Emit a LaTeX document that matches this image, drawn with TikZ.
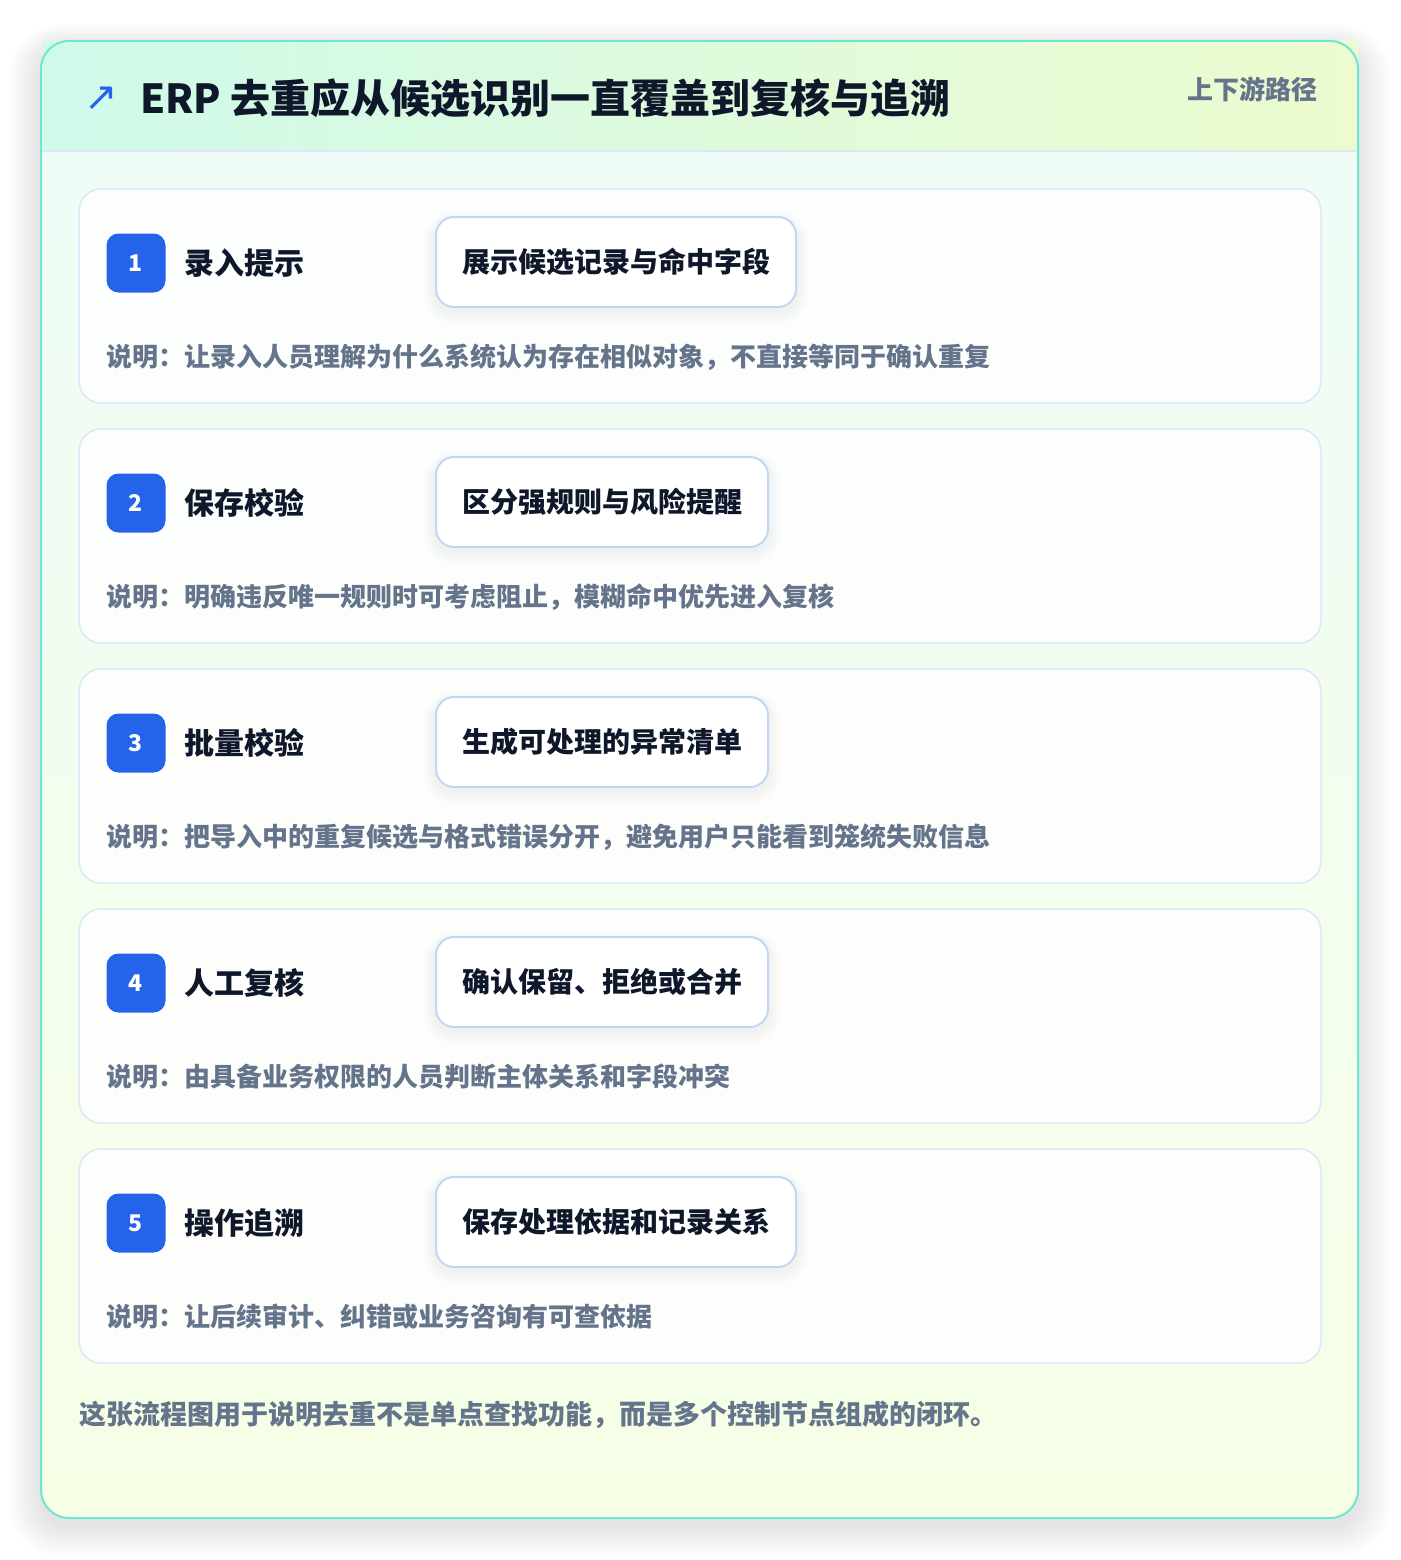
\documentclass[tikz,border=0pt]{standalone}
\usepackage{fontspec}
\setmainfont{Noto Sans CJK SC}
\newfontfamily\symf{DejaVu Sans}
\pgfdeclarelayer{bg}
\pgfdeclarelayer{shad}
\pgfsetlayers{bg,shad,main}
\definecolor{framebd}{HTML}{6EE7D2}
\definecolor{hdrL}{HTML}{CFFAEA}
\definecolor{hdrR}{HTML}{EDFBCE}
\definecolor{bodyT}{HTML}{EFFDF8}
\definecolor{bodyB}{HTML}{F6FEE6}
\definecolor{cardbd}{HTML}{DCE8FA}
\definecolor{pillbd}{HTML}{BFD8F6}
\definecolor{badgec}{HTML}{2563EB}
\definecolor{darktxt}{HTML}{0F172A}
\definecolor{graytxt}{HTML}{64748B}
\tikzset{
  cardbox/.style={draw=cardbd, line width=1.5pt, fill=white, fill opacity=0.85, draw opacity=1, rounded corners=22pt},
  badgebox/.style={fill=badgec, rounded corners=12pt, minimum width=59pt, minimum height=59pt, inner sep=0pt, text=white, font=\fontsize{23}{26}\selectfont\bfseries},
  steptitle/.style={anchor=west, inner sep=0pt, text=darktxt, font=\fontsize{30}{36}\selectfont\bfseries},
  pillbox/.style={anchor=west, draw=pillbd, line width=2pt, fill=white, rounded corners=18pt, minimum height=90pt, inner xsep=26pt, inner ysep=0pt, text=darktxt, font=\fontsize{28}{34}\selectfont\bfseries},
  desctxt/.style={anchor=west, inner sep=0pt, text=graytxt, font=\fontsize{26}{32}\selectfont\bfseries},
  foottxt/.style={anchor=west, inner sep=0pt, text=graytxt, font=\fontsize{27}{32}\selectfont\bfseries},
  softshadow/.style={fill=black, opacity=0.0055},
}
\begin{document}
\begin{tikzpicture}[x=1pt,y=-1pt]
\useasboundingbox (0,0) rectangle (1400,1560);
\begin{pgfonlayer}{bg}
\fill[white] (0,0) rectangle (1400,1560);
% soft shadow of frame
\foreach \k in {1,...,26}{
  \fill[softshadow, rounded corners=28+\k] (41-\k*1.3,41-\k*0.9+6) rectangle (1358+\k*1.3,1518+\k*1.2+8);
}
\path[rounded corners=28pt, top color=bodyT, bottom color=bodyB] (41,41) rectangle (1358,1518);
% header
\shade[left color=hdrL, right color=hdrR] (43,42) rectangle (1358,151);
\draw[cardbd, line width=1.5pt] (42,151) -- (1357,151);
\draw[framebd, line width=2pt, rounded corners=28pt] (41,41) rectangle (1358,1518);
\end{pgfonlayer}
\node[anchor=center, inner sep=0pt, text=badgec, font=\symf\fontsize{40}{44}\selectfont] (icon) at (101,99) {↗};
\node[anchor=west, inner sep=0pt, text=darktxt, font=\fontsize{40}{46}\selectfont\bfseries] (title) at (140,98) {ERP 去重应从候选识别一直覆盖到复核与追溯};
\node[anchor=east, inner sep=0pt, text=graytxt, font=\fontsize{26}{30}\selectfont\bfseries] (tag) at (1318,89) {上下游路径};
% cards
\foreach \i/\t/\b/\d in {
  1/录入提示/展示候选记录与命中字段/说明：让录入人员理解为什么系统认为存在相似对象，不直接等同于确认重复,
  2/保存校验/区分强规则与风险提醒/说明：明确违反唯一规则时可考虑阻止，模糊命中优先进入复核,
  3/批量校验/生成可处理的异常清单/说明：把导入中的重复候选与格式错误分开，避免用户只能看到笼统失败信息,
  4/人工复核/确认保留、拒绝或合并/说明：由具备业务权限的人员判断主体关系和字段冲突,
  5/操作追溯/保存处理依据和记录关系/说明：让后续审计、纠错或业务咨询有可查依据}{
  \pgfmathsetmacro{\top}{189+240*(\i-1)}
  \begin{pgfonlayer}{bg}
  \draw[cardbox] (79,\top) rectangle (1321,\top+214);
  \end{pgfonlayer}
  \node[badgebox] (badge\i) at (136,\top+74) {\i};
  \node[steptitle] (st\i) at (184,\top+74) {\t};
  \node[pillbox] (pill\i) at (435,\top+73) {\b};
  \begin{pgfonlayer}{shad}
  \foreach \k in {1,...,12}{
    \fill[softshadow, rounded corners=18+\k] ([shift={(-\k,-\k*0.7+4)}]pill\i.north west) rectangle ([shift={(\k,\k+4)}]pill\i.south east);
  }
  \end{pgfonlayer}
  \node[desctxt] (desc\i) at (106,\top+168) {\d};
}
\node[foottxt] (foot) at (79,1415) {这张流程图用于说明去重不是单点查找功能，而是多个控制节点组成的闭环。};
\end{tikzpicture}
\end{document}
